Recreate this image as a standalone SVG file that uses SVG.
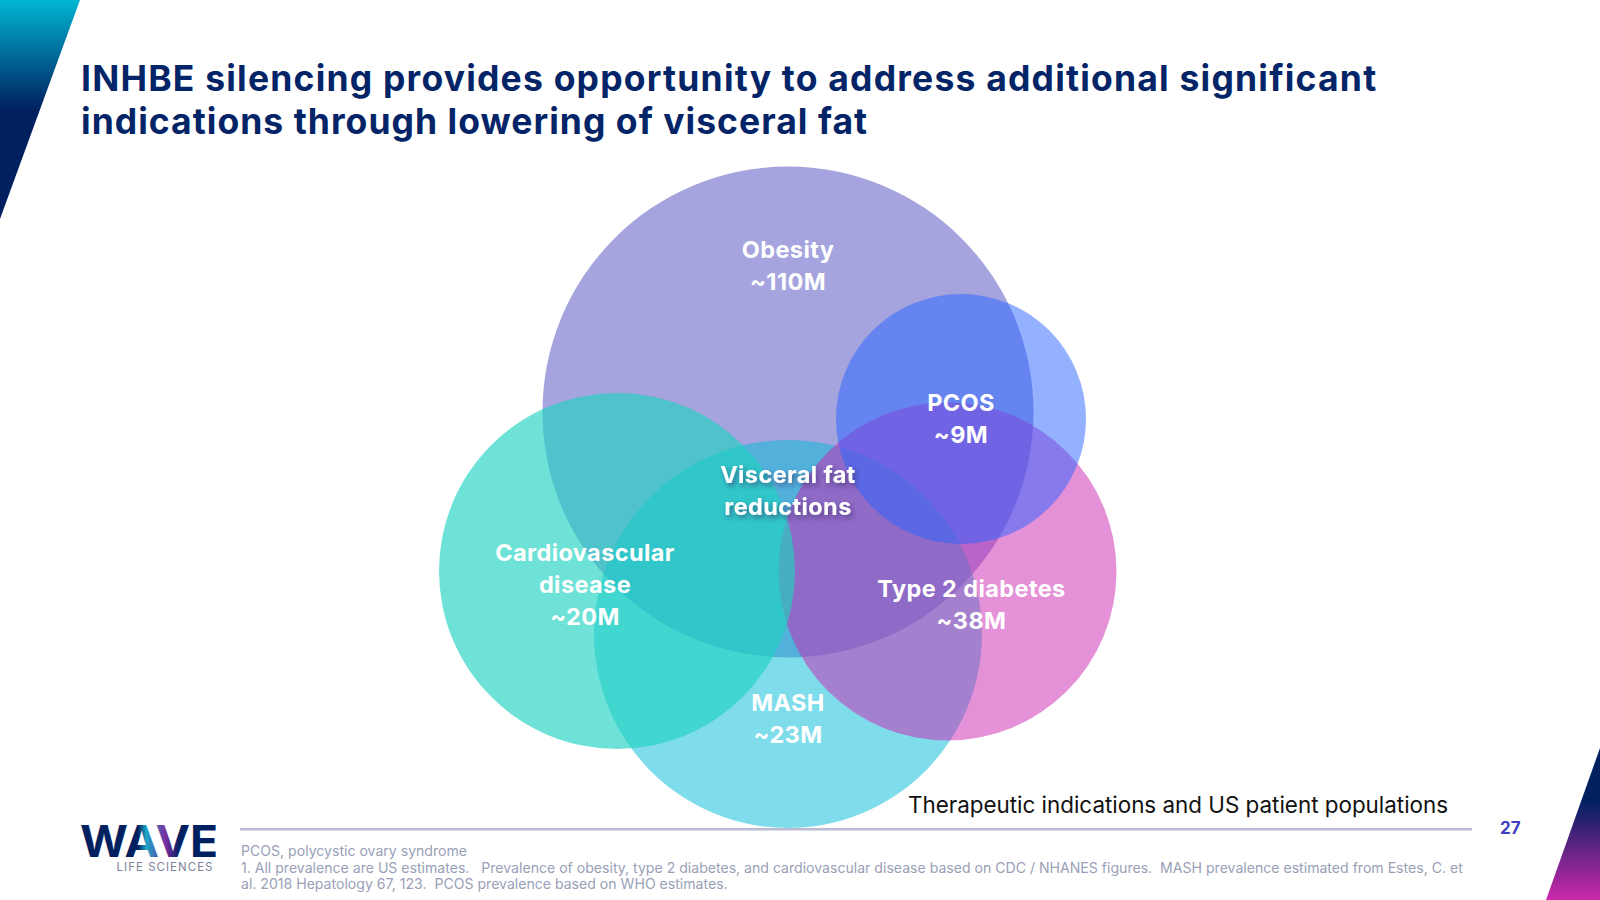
<svg xmlns="http://www.w3.org/2000/svg" width="1600" height="900" viewBox="0 0 1600 900">
<defs>
<linearGradient id="gt" x1="0" y1="0" x2="0" y2="1"><stop offset="0" stop-color="#00B6D2"/><stop offset="0.5" stop-color="#002060"/><stop offset="1" stop-color="#002060"/></linearGradient>
<linearGradient id="gb" x1="0" y1="0" x2="0" y2="1"><stop offset="0" stop-color="#002060"/><stop offset="0.35" stop-color="#002060"/><stop offset="1" stop-color="#CC28AC"/></linearGradient>
<linearGradient id="gl" x1="0" y1="0" x2="1" y2="0"><stop offset="0" stop-color="#002060"/><stop offset="0.42" stop-color="#002060"/><stop offset="0.48" stop-color="#1aa7c8"/><stop offset="0.62" stop-color="#7a2ea0"/><stop offset="0.72" stop-color="#002060"/></linearGradient>
<filter id="sh" x="-20%" y="-30%" width="140%" height="170%"><feDropShadow dx="2" dy="3" stdDeviation="2.5" flood-color="#302060" flood-opacity="0.55"/></filter>
</defs>
<style>
text{font-family:Inter,"Noto Sans",sans-serif}
.t{font-size:35.5px;font-weight:700;fill:#042468}
.l{font-size:23.5px;font-weight:700;fill:#fff;text-anchor:middle;letter-spacing:.4px}
.f{font-size:14.08px;fill:#9AA0B8}
</style>
<rect width="1600" height="900" fill="#fff"/>
<polygon points="0,0 80,0 0,219" fill="url(#gt)"/>
<polygon points="1600,748 1600,900 1546,900" fill="url(#gb)"/>
<text class="t" x="81" y="91" letter-spacing="1.2">INHBE silencing provides opportunity to address additional significant</text>
<text class="t" x="81" y="134" letter-spacing="1.03">indications through lowering of visceral fat</text>
<g id="obesity"><circle cx="788" cy="412" r="245.5" fill="#4B49BD" fill-opacity="0.5"/></g>
<g id="mash"><circle cx="788" cy="634" r="194" fill="#00BBD7" fill-opacity="0.5"/></g>
<g id="t2d"><circle cx="947.5" cy="571.5" r="169" fill="#CC23B1" fill-opacity="0.5"/></g>
<g id="cvd"><circle cx="617" cy="571" r="178" fill="#20D3C0" fill-opacity="0.65"/></g>
<g id="pcos"><circle cx="961" cy="419" r="125" fill="#2864FF" fill-opacity="0.5"/></g>
<text class="l" x="788" y="258">Obesity</text><text class="l" x="788" y="290">~110M</text>
<text class="l" x="961" y="411">PCOS</text><text class="l" x="961" y="443">~9M</text>
<g filter="url(#sh)"><text class="l" x="788" y="483">Visceral fat</text><text class="l" x="788" y="515">reductions</text></g>
<text class="l" x="585" y="561" letter-spacing=".6">Cardiovascular</text><text class="l" x="585" y="593">disease</text><text class="l" x="585" y="625">~20M</text>
<text class="l" x="971.5" y="597">Type 2 diabetes</text><text class="l" x="971.5" y="629">~38M</text>
<text class="l" x="788" y="711">MASH</text><text class="l" x="788" y="743">~23M</text>
<text x="908" y="813" font-size="22.4" fill="#111">Therapeutic indications and US patient populations</text>
<rect x="240" y="828" width="1232" height="2.5" fill="#B9BCD0"/>
<text x="1500" y="834" font-size="17" font-weight="700" fill="#4040C0">27</text>
<g id="logo"><text x="80" y="857" font-family="Liberation Sans" font-size="44" font-weight="700" fill="url(#gl)" textLength="138" lengthAdjust="spacingAndGlyphs">WAVE</text>
<text x="116.5" y="871" font-size="11.5" fill="#7C8298" textLength="96">LIFE SCIENCES</text></g>
<text class="f" x="241" y="856">PCOS, polycystic ovary syndrome</text>
<text class="f" x="241" y="873" xml:space="preserve">1. All prevalence are US estimates.   Prevalence of obesity, type 2 diabetes, and cardiovascular disease based on CDC / NHANES figures.  MASH prevalence estimated from Estes, C. et</text>
<text class="f" x="241" y="889" xml:space="preserve">al. 2018 Hepatology 67, 123.  PCOS prevalence based on WHO estimates.</text>
</svg>
